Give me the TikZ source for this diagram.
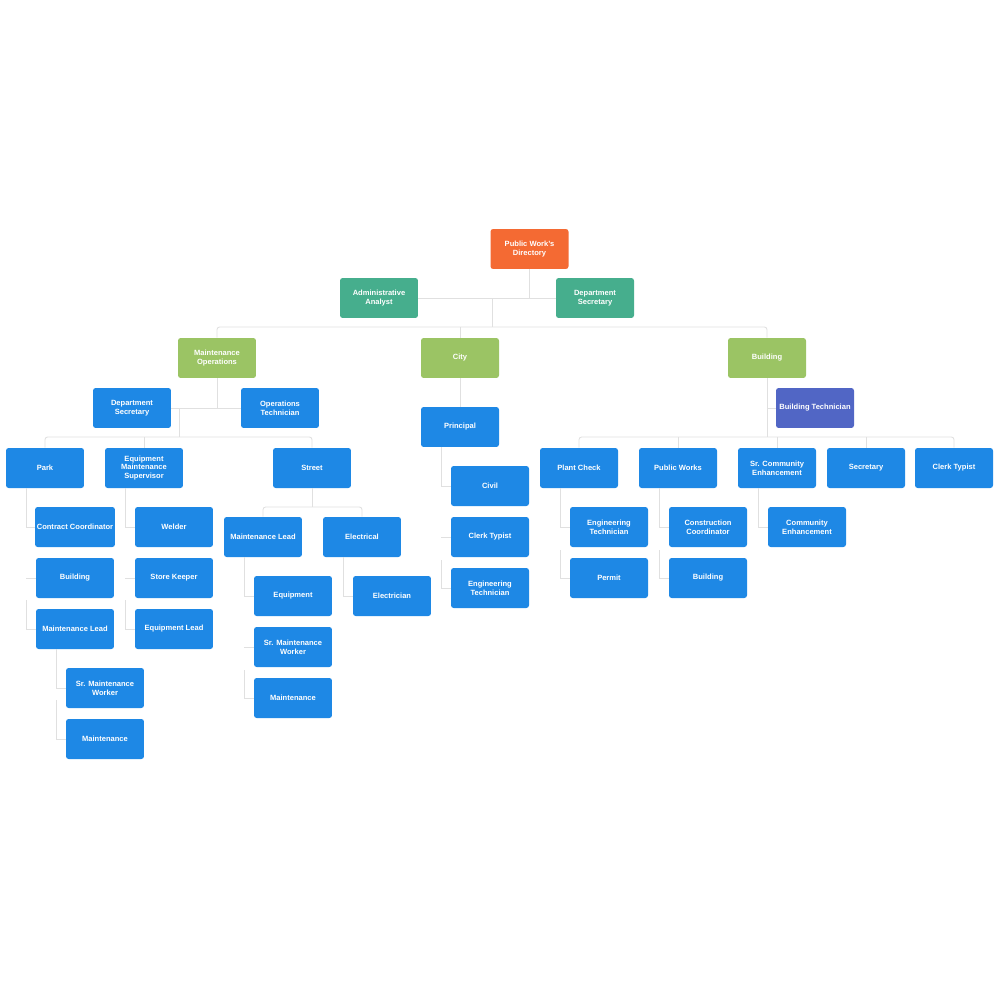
\documentclass[tikz,border=0pt]{standalone}
\usepackage{fontspec}
\setmainfont{Liberation Sans}
\definecolor{pw_orange}{RGB}{244, 106, 51}
\definecolor{pw_teal}{RGB}{70, 174, 141}
\definecolor{pw_green}{RGB}{155, 196, 100}
\definecolor{pw_blue}{RGB}{30, 136, 229}
\definecolor{pw_purple}{RGB}{81, 102, 197}
\definecolor{pw_line}{RGB}{224, 224, 224}
\tikzstyle{bx}=[rectangle,rounded corners=1.5pt,fill=pw_blue,text=white,
  font=\fontsize{4.3}{5}\selectfont\bfseries,align=center,
  minimum width=1.56cm,minimum height=0.8cm,inner sep=1pt]
\tikzstyle{ob}=[bx,fill=pw_orange]
\tikzstyle{tb}=[bx,fill=pw_teal]
\tikzstyle{gb}=[bx,fill=pw_green]
\tikzstyle{pb}=[bx,fill=pw_purple]
\tikzstyle{ln}=[draw=pw_line,line width=0.5pt]
\begin{document}
\begin{tikzpicture}[x=0.02cm,y=-0.02cm]
    \useasboundingbox (0,0) rectangle (1000,1000);
            % top
            \node [style=ob] (dir) at (529.5, 249) {Public Work's\\Directory};
            \node [style=tb] (aa) at (379, 298) {Administrative\\Analyst};
            \node [style=tb] (ds) at (595, 298) {Department\\Secretary};
            \coordinate (j0) at (529.5, 298);
            \coordinate (j1) at (492, 298);
            \coordinate (j2) at (492, 327);
            \node [style=gb] (mo) at (217, 358) {Maintenance\\Operations};
            \node [style=gb] (city) at (460, 358) {City};
            \node [style=gb] (bld) at (767, 358) {Building};
            % maintenance operations
            \node [style=bx] (mds) at (132, 408) {Department\\Secretary};
            \node [style=bx] (mot) at (280, 408) {Operations\\Technician};
            \coordinate (m0) at (217, 408);
            \coordinate (m1) at (179, 408);
            \coordinate (m2) at (179, 437);
            \node [style=bx] (park) at (45, 468) {Park};
            \node [style=bx] (ems) at (144, 468) {Equipment\\Maintenance\\Supervisor};
            \node [style=bx] (st) at (312, 468) {Street};
            \node [style=bx] (p1) at (75, 527) {Contract Coordinator};
            \node [style=bx] (p2) at (75, 578) {Building};
            \node [style=bx] (p3) at (75, 629) {Maintenance Lead};
            \node [style=bx] (p31) at (105, 688) {Sr. Maintenance\\Worker};
            \node [style=bx] (p32) at (105, 739) {Maintenance};
            \node [style=bx] (e1) at (174, 527) {Welder};
            \node [style=bx] (e2) at (174, 578) {Store Keeper};
            \node [style=bx] (e3) at (174, 629) {Equipment Lead};
            \node [style=bx] (sml) at (263, 537) {Maintenance Lead};
            \node [style=bx] (sel) at (362, 537) {Electrical};
            \node [style=bx] (s1) at (293, 596) {Equipment};
            \node [style=bx] (s2) at (293, 647) {Sr. Maintenance\\Worker};
            \node [style=bx] (s3) at (293, 698) {Maintenance};
            \node [style=bx] (s4) at (392, 596) {Electrician};
            % city
            \node [style=bx] (pr) at (460, 427) {Principal};
            \node [style=bx] (c1) at (490, 486) {Civil};
            \node [style=bx] (c2) at (490, 537) {Clerk Typist};
            \node [style=bx] (c3) at (490, 588) {Engineering\\Technician};
            % building
            \node [style=pb] (bt) at (815, 408) {Building Technician};
            \node [style=bx] (pc) at (579, 468) {Plant Check};
            \node [style=bx] (pw) at (678, 468) {Public Works};
            \node [style=bx] (sce) at (777, 468) {Sr. Community\\Enhancement};
            \node [style=bx] (sec) at (866, 468) {Secretary};
            \node [style=bx] (ct) at (954, 468) {Clerk Typist};
            \node [style=bx] (b1) at (609, 527) {Engineering\\Technician};
            \node [style=bx] (b2) at (609, 578) {Permit};
            \node [style=bx] (b3) at (708, 527) {Construction\\Coordinator};
            \node [style=bx] (b4) at (708, 578) {Building};
            \node [style=bx] (b5) at (807, 527) {Community\\Enhancement};
            % connectors
            \begin{scope}[on background layer/.style={}]
            \draw [ln] (dir) to (j0);
            \draw [ln] (aa) to (ds);
            \draw [ln] (j1) to (j2);
            \draw [ln,rounded corners=1.5pt] (mo.north) |- (j2) -| (bld.north);
            \draw [ln] (j2 -| city.north) to (city);
            \draw [ln] (mo) to (m0);
            \draw [ln] (mds) to (mot);
            \draw [ln] (m1) to (m2);
            \draw [ln,rounded corners=1.5pt] (park.north) |- (m2) -| (st.north);
            \draw [ln] (m2 -| ems.north) to (ems);
            \draw [ln] (park.south -| 26,0) |- (p1.west);
            \draw [ln] (26, 578) to (p2.west);
            \draw [ln] (26, 600) |- (p3.west);
            \draw [ln] (p3.south -| 56,0) |- (p31.west);
            \draw [ln] (56, 700) |- (p32.west);
            \draw [ln] (ems.south -| 125,0) |- (e1.west);
            \draw [ln] (125, 578) to (e2.west);
            \draw [ln] (125, 600) |- (e3.west);
            \draw [ln] (st) to (312, 507);
            \draw [ln,rounded corners=1.5pt] (sml.north) |- (312, 507) -| (sel.north);
            \draw [ln] (sml.south -| 244,0) |- (s1.west);
            \draw [ln] (244, 647) to (s2.west);
            \draw [ln] (244, 670) |- (s3.west);
            \draw [ln] (sel.south -| 343,0) |- (s4.west);
            \draw [ln] (city) to (pr);
            \draw [ln] (pr.south -| 441,0) |- (c1.west);
            \draw [ln] (441, 537) to (c2.west);
            \draw [ln] (441, 560) |- (c3.west);
            \draw [ln] (bld) to (767, 437);
            \draw [ln] (767, 408) to (bt.west);
            \draw [ln,rounded corners=1.5pt] (pc.north) |- (767, 437) -| (ct.north);
            \draw [ln] (678, 437) to (pw);
            \draw [ln] (777, 437) to (sce);
            \draw [ln] (866, 437) to (sec);
            \draw [ln] (pc.south -| 560,0) |- (b1.west);
            \draw [ln] (560, 550) |- (b2.west);
            \draw [ln] (pw.south -| 659,0) |- (b3.west);
            \draw [ln] (659, 550) |- (b4.west);
            \draw [ln] (sce.south -| 758,0) |- (b5.west);
            \end{scope}
    \end{tikzpicture}
\end{document}
